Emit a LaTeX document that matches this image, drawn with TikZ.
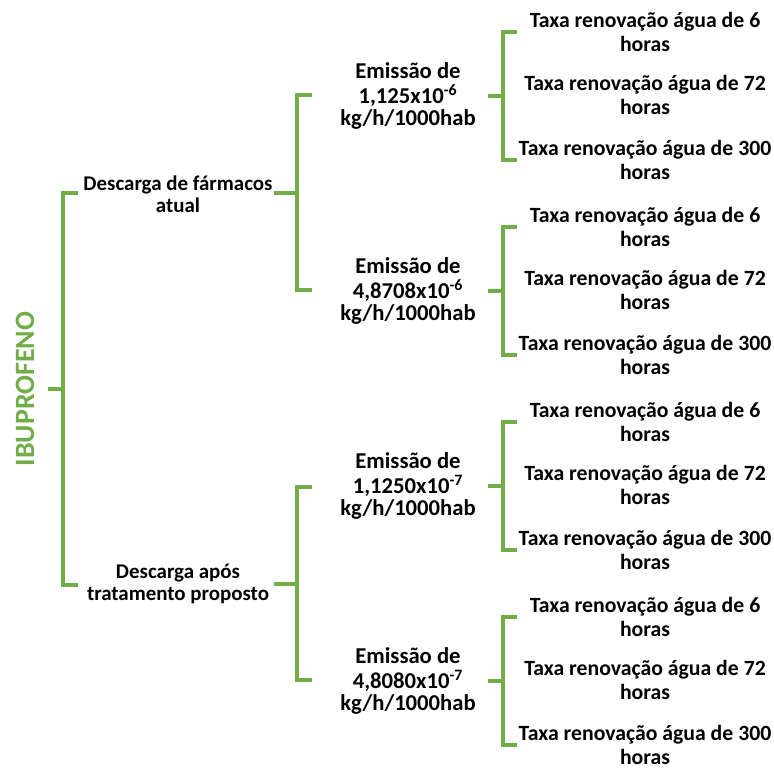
\documentclass[tikz,border=0pt]{standalone}
\usepackage{fontspec}
\setmainfont{Carlito}
\definecolor{brgreen}{HTML}{70AD47}
\begin{document}
\begin{tikzpicture}[x=0.75pt,y=-0.75pt,
  lbl/.style={align=center, inner sep=0pt},
  lvone/.style={lbl, font=\bfseries\fontsize{15.7}{16.5}\selectfont},
  lvtwo/.style={lbl, font=\bfseries\fontsize{17}{16.6}\selectfont},
  leaf/.style={lbl, font=\bfseries\fontsize{16.3}{18}\selectfont},
  br/.style={draw=brgreen, line width=3pt, line join=miter}]
\useasboundingbox (0,0) rectangle (774,769);
% root
\node[rotate=90, text=brgreen, font=\bfseries\fontsize{21}{21}\selectfont, inner sep=0pt] (root) at (25,389) {IBUPROFENO};
\coordinate (rt) at (48,389);
\coordinate (rv) at (63,389);
\draw[br] (rt) -- (rv);
\draw[br] (78,193) -- (63,193) -- (63,585) -- (78,585);
% level 1
\node[lvone] (d1) at (178,194) {Descarga de fármacos\\atual};
\node[lvone] (d2) at (178,584) {Descarga após\\tratamento proposto};
\draw[br] (274,193) -- (297,193);
\draw[br] (312,95) -- (297,95) -- (297,290) -- (312,290);
\draw[br] (274,584) -- (297,584);
\draw[br] (312,487) -- (297,487) -- (297,680) -- (312,680);
% level 2
\node[lvtwo] (e1) at (408,96) {Emissão de\\[2pt]1,125x10\textsuperscript{-6}\\kg/h/1000hab};
\node[lvtwo] (e2) at (408,291) {Emissão de\\[2pt]4,8708x10\textsuperscript{-6}\\kg/h/1000hab};
\node[lvtwo] (e3) at (408,486) {Emissão de\\[2pt]1,1250x10\textsuperscript{-7}\\kg/h/1000hab};
\node[lvtwo] (e4) at (408,681) {Emissão de\\[2pt]4,8080x10\textsuperscript{-7}\\kg/h/1000hab};
% leaves
\foreach \g/\c in {1/96,2/291,3/486,4/681} {
  \node[leaf] (t\g a) at (645,{\c-64}) {Taxa renovação água de 6\\horas};
  \node[leaf] (t\g b) at (645,{\c-1}) {Taxa renovação água de 72\\horas};
  \node[leaf] (t\g c) at (645,{\c+64}) {Taxa renovação água de 300\\horas};
  \draw[br] (488,\c) -- (503,\c);
  \draw[br] (517,{\c-64}) -- (503,{\c-64}) -- (503,{\c+64}) -- (517,{\c+64});
}
\end{tikzpicture}
\end{document}
